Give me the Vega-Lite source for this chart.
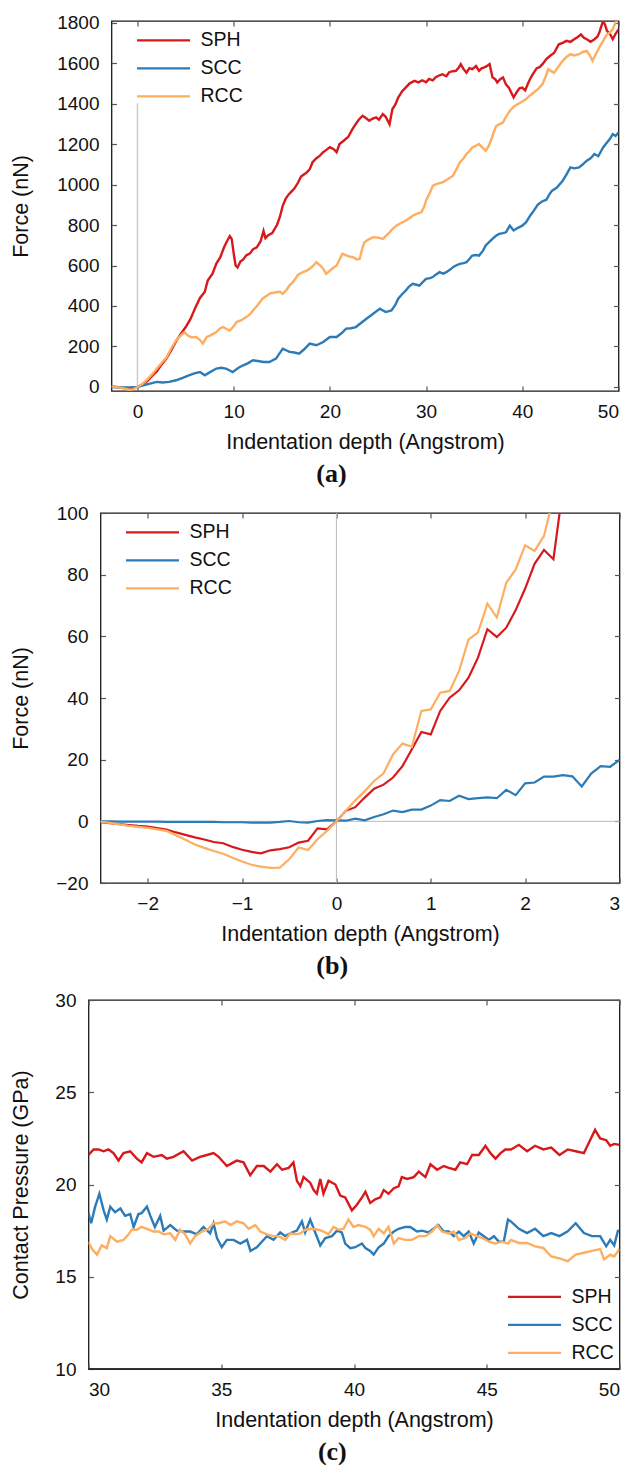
{
  "$schema": "https://vega.github.io/schema/vega-lite/v6.json",
  "padding": {"left": 8.5, "top": 12, "right": 0, "bottom": 0},
  "background": "white",
  "config": {
    "font": "Liberation Sans",
    "view": {"stroke": "#1a1a1a", "strokeWidth": 1.3},
    "axis": {"domain": false, "grid": false, "ticks": true, "tickSize": -5, "tickColor": "#555555", "tickWidth": 1.2, "labelFont": "Liberation Sans", "labelFontSize": 19, "labelColor": "#111111", "titleFont": "Liberation Sans", "titleFontSize": 21.5, "titleFontWeight": "normal", "titleColor": "#111111", "format": "d"},
    "legend": {"orient": "none", "symbolType": "stroke", "symbolSize": 2809, "symbolStrokeWidth": 2.2, "labelFont": "Liberation Sans", "labelFontSize": 19.5, "labelColor": "#111111", "labelOffset": 9, "clipHeight": 25.8, "rowPadding": 2, "padding": 0, "offset": 0},
    "title": {"font": "Liberation Serif", "fontSize": 26, "fontWeight": "bold", "color": "#111111", "orient": "bottom", "frame": "group", "anchor": "middle"}
  },
  "datasets": {
    "none": [],
    "a": [
      {"s":"SPH","x":-2.7,"y":2},{"s":"SPH","x":-2.2,"y":0},{"s":"SPH","x":-1.7,"y":-4},{"s":"SPH","x":-1.2,"y":-7},{"s":"SPH","x":-0.8,"y":-10},{"s":"SPH","x":-0.5,"y":-8},{"s":"SPH","x":-0.2,"y":-2},{"s":"SPH","x":0,"y":0},{"s":"SPH","x":0.5,"y":12},{"s":"SPH","x":1,"y":28},{"s":"SPH","x":1.5,"y":53},{"s":"SPH","x":2,"y":76},{"s":"SPH","x":2.5,"y":110},{"s":"SPH","x":3,"y":140},{"s":"SPH","x":3.5,"y":180},{"s":"SPH","x":4,"y":225},{"s":"SPH","x":4.5,"y":262},{"s":"SPH","x":5,"y":295},{"s":"SPH","x":5.5,"y":335},{"s":"SPH","x":6,"y":390},{"s":"SPH","x":6.5,"y":440},{"s":"SPH","x":7,"y":470},{"s":"SPH","x":7.3,"y":526},{"s":"SPH","x":7.8,"y":560},{"s":"SPH","x":8.2,"y":610},{"s":"SPH","x":8.6,"y":640},{"s":"SPH","x":9,"y":690},{"s":"SPH","x":9.3,"y":720},{"s":"SPH","x":9.6,"y":745},{"s":"SPH","x":9.8,"y":730},{"s":"SPH","x":10,"y":660},{"s":"SPH","x":10.2,"y":600},{"s":"SPH","x":10.4,"y":590},{"s":"SPH","x":10.7,"y":620},{"s":"SPH","x":11,"y":630},{"s":"SPH","x":11.3,"y":650},{"s":"SPH","x":11.7,"y":660},{"s":"SPH","x":12,"y":680},{"s":"SPH","x":12.4,"y":690},{"s":"SPH","x":12.8,"y":720},{"s":"SPH","x":13.1,"y":770},{"s":"SPH","x":13.3,"y":735},{"s":"SPH","x":13.6,"y":750},{"s":"SPH","x":14,"y":760},{"s":"SPH","x":14.5,"y":800},{"s":"SPH","x":14.8,"y":840},{"s":"SPH","x":15.1,"y":895},{"s":"SPH","x":15.4,"y":930},{"s":"SPH","x":15.7,"y":950},{"s":"SPH","x":16,"y":965},{"s":"SPH","x":16.3,"y":980},{"s":"SPH","x":16.7,"y":1010},{"s":"SPH","x":17,"y":1040},{"s":"SPH","x":17.3,"y":1050},{"s":"SPH","x":17.6,"y":1060},{"s":"SPH","x":17.9,"y":1075},{"s":"SPH","x":18.2,"y":1110},{"s":"SPH","x":18.6,"y":1130},{"s":"SPH","x":18.9,"y":1140},{"s":"SPH","x":19.3,"y":1160},{"s":"SPH","x":19.6,"y":1170},{"s":"SPH","x":20,"y":1185},{"s":"SPH","x":20.4,"y":1175},{"s":"SPH","x":20.7,"y":1160},{"s":"SPH","x":21,"y":1200},{"s":"SPH","x":21.4,"y":1215},{"s":"SPH","x":21.9,"y":1235},{"s":"SPH","x":22.3,"y":1270},{"s":"SPH","x":22.7,"y":1300},{"s":"SPH","x":23,"y":1320},{"s":"SPH","x":23.4,"y":1340},{"s":"SPH","x":23.7,"y":1330},{"s":"SPH","x":24.1,"y":1315},{"s":"SPH","x":24.4,"y":1325},{"s":"SPH","x":24.8,"y":1332},{"s":"SPH","x":25.1,"y":1320},{"s":"SPH","x":25.5,"y":1348},{"s":"SPH","x":25.8,"y":1335},{"s":"SPH","x":26.2,"y":1298},{"s":"SPH","x":26.5,"y":1373},{"s":"SPH","x":26.8,"y":1395},{"s":"SPH","x":27.1,"y":1430},{"s":"SPH","x":27.5,"y":1460},{"s":"SPH","x":27.9,"y":1480},{"s":"SPH","x":28.3,"y":1500},{"s":"SPH","x":28.8,"y":1512},{"s":"SPH","x":29.2,"y":1505},{"s":"SPH","x":29.6,"y":1515},{"s":"SPH","x":30,"y":1505},{"s":"SPH","x":30.3,"y":1522},{"s":"SPH","x":30.7,"y":1515},{"s":"SPH","x":31,"y":1530},{"s":"SPH","x":31.4,"y":1540},{"s":"SPH","x":31.7,"y":1545},{"s":"SPH","x":32.1,"y":1535},{"s":"SPH","x":32.4,"y":1555},{"s":"SPH","x":32.8,"y":1560},{"s":"SPH","x":33.1,"y":1562},{"s":"SPH","x":33.4,"y":1578},{"s":"SPH","x":33.6,"y":1595},{"s":"SPH","x":33.9,"y":1570},{"s":"SPH","x":34.2,"y":1553},{"s":"SPH","x":34.5,"y":1575},{"s":"SPH","x":34.8,"y":1570},{"s":"SPH","x":35.2,"y":1585},{"s":"SPH","x":35.5,"y":1562},{"s":"SPH","x":35.8,"y":1575},{"s":"SPH","x":36,"y":1578},{"s":"SPH","x":36.3,"y":1585},{"s":"SPH","x":36.6,"y":1595},{"s":"SPH","x":36.9,"y":1530},{"s":"SPH","x":37.2,"y":1520},{"s":"SPH","x":37.4,"y":1504},{"s":"SPH","x":37.7,"y":1520},{"s":"SPH","x":38,"y":1529},{"s":"SPH","x":38.3,"y":1495},{"s":"SPH","x":38.6,"y":1479},{"s":"SPH","x":38.9,"y":1450},{"s":"SPH","x":39.1,"y":1430},{"s":"SPH","x":39.4,"y":1455},{"s":"SPH","x":39.7,"y":1475},{"s":"SPH","x":40,"y":1479},{"s":"SPH","x":40.3,"y":1465},{"s":"SPH","x":40.6,"y":1500},{"s":"SPH","x":40.9,"y":1530},{"s":"SPH","x":41.2,"y":1553},{"s":"SPH","x":41.5,"y":1575},{"s":"SPH","x":41.8,"y":1580},{"s":"SPH","x":42.1,"y":1595},{"s":"SPH","x":42.5,"y":1620},{"s":"SPH","x":42.9,"y":1636},{"s":"SPH","x":43.3,"y":1650},{"s":"SPH","x":43.8,"y":1693},{"s":"SPH","x":44.2,"y":1700},{"s":"SPH","x":44.6,"y":1710},{"s":"SPH","x":45,"y":1705},{"s":"SPH","x":45.4,"y":1718},{"s":"SPH","x":45.8,"y":1730},{"s":"SPH","x":46.1,"y":1742},{"s":"SPH","x":46.4,"y":1725},{"s":"SPH","x":46.7,"y":1718},{"s":"SPH","x":47.1,"y":1705},{"s":"SPH","x":47.5,"y":1718},{"s":"SPH","x":47.8,"y":1730},{"s":"SPH","x":48,"y":1750},{"s":"SPH","x":48.2,"y":1780},{"s":"SPH","x":48.4,"y":1808},{"s":"SPH","x":48.6,"y":1790},{"s":"SPH","x":48.8,"y":1759},{"s":"SPH","x":49.1,"y":1745},{"s":"SPH","x":49.4,"y":1718},{"s":"SPH","x":49.7,"y":1745},{"s":"SPH","x":50,"y":1767},
      {"s":"SCC","x":-2.7,"y":0},{"s":"SCC","x":-2.2,"y":-1},{"s":"SCC","x":-1.7,"y":-1},{"s":"SCC","x":-1.2,"y":-2},{"s":"SCC","x":-0.8,"y":-2},{"s":"SCC","x":-0.5,"y":-1},{"s":"SCC","x":0,"y":0},{"s":"SCC","x":0.6,"y":8},{"s":"SCC","x":1.2,"y":15},{"s":"SCC","x":2,"y":25},{"s":"SCC","x":2.6,"y":22},{"s":"SCC","x":3.3,"y":25},{"s":"SCC","x":4,"y":33},{"s":"SCC","x":4.7,"y":45},{"s":"SCC","x":5.4,"y":58},{"s":"SCC","x":6,"y":68},{"s":"SCC","x":6.5,"y":74},{"s":"SCC","x":7,"y":58},{"s":"SCC","x":7.5,"y":72},{"s":"SCC","x":8.2,"y":91},{"s":"SCC","x":8.7,"y":95},{"s":"SCC","x":9.2,"y":91},{"s":"SCC","x":9.9,"y":74},{"s":"SCC","x":10.5,"y":95},{"s":"SCC","x":11,"y":107},{"s":"SCC","x":11.5,"y":118},{"s":"SCC","x":12,"y":132},{"s":"SCC","x":12.5,"y":128},{"s":"SCC","x":13.1,"y":123},{"s":"SCC","x":13.7,"y":123},{"s":"SCC","x":14.4,"y":140},{"s":"SCC","x":15.1,"y":189},{"s":"SCC","x":15.5,"y":180},{"s":"SCC","x":15.8,"y":173},{"s":"SCC","x":16.3,"y":170},{"s":"SCC","x":16.8,"y":164},{"s":"SCC","x":17.3,"y":185},{"s":"SCC","x":17.9,"y":214},{"s":"SCC","x":18.6,"y":206},{"s":"SCC","x":19.3,"y":222},{"s":"SCC","x":20,"y":247},{"s":"SCC","x":20.7,"y":247},{"s":"SCC","x":21.2,"y":265},{"s":"SCC","x":21.7,"y":288},{"s":"SCC","x":22.2,"y":290},{"s":"SCC","x":22.7,"y":296},{"s":"SCC","x":23.2,"y":315},{"s":"SCC","x":23.8,"y":337},{"s":"SCC","x":24.5,"y":362},{"s":"SCC","x":25.2,"y":387},{"s":"SCC","x":25.8,"y":370},{"s":"SCC","x":26.4,"y":378},{"s":"SCC","x":26.8,"y":405},{"s":"SCC","x":27.1,"y":436},{"s":"SCC","x":27.5,"y":458},{"s":"SCC","x":27.9,"y":477},{"s":"SCC","x":28.2,"y":495},{"s":"SCC","x":28.6,"y":510},{"s":"SCC","x":29,"y":505},{"s":"SCC","x":29.3,"y":501},{"s":"SCC","x":29.7,"y":520},{"s":"SCC","x":30,"y":534},{"s":"SCC","x":30.4,"y":538},{"s":"SCC","x":30.7,"y":543},{"s":"SCC","x":31,"y":555},{"s":"SCC","x":31.4,"y":567},{"s":"SCC","x":31.8,"y":560},{"s":"SCC","x":32.1,"y":567},{"s":"SCC","x":32.5,"y":580},{"s":"SCC","x":32.8,"y":592},{"s":"SCC","x":33.1,"y":600},{"s":"SCC","x":33.5,"y":608},{"s":"SCC","x":33.9,"y":612},{"s":"SCC","x":34.2,"y":616},{"s":"SCC","x":34.5,"y":632},{"s":"SCC","x":34.8,"y":649},{"s":"SCC","x":35.2,"y":652},{"s":"SCC","x":35.5,"y":649},{"s":"SCC","x":35.9,"y":672},{"s":"SCC","x":36.2,"y":699},{"s":"SCC","x":36.6,"y":718},{"s":"SCC","x":36.9,"y":732},{"s":"SCC","x":37.3,"y":748},{"s":"SCC","x":37.6,"y":756},{"s":"SCC","x":38,"y":760},{"s":"SCC","x":38.3,"y":764},{"s":"SCC","x":38.7,"y":797},{"s":"SCC","x":39.1,"y":773},{"s":"SCC","x":39.5,"y":785},{"s":"SCC","x":40,"y":797},{"s":"SCC","x":40.4,"y":814},{"s":"SCC","x":40.8,"y":845},{"s":"SCC","x":41.2,"y":871},{"s":"SCC","x":41.6,"y":900},{"s":"SCC","x":42,"y":915},{"s":"SCC","x":42.5,"y":925},{"s":"SCC","x":42.8,"y":950},{"s":"SCC","x":43.1,"y":970},{"s":"SCC","x":43.6,"y":985},{"s":"SCC","x":44.2,"y":1019},{"s":"SCC","x":44.6,"y":1050},{"s":"SCC","x":45,"y":1085},{"s":"SCC","x":45.4,"y":1080},{"s":"SCC","x":45.9,"y":1085},{"s":"SCC","x":46.3,"y":1100},{"s":"SCC","x":46.7,"y":1118},{"s":"SCC","x":47.1,"y":1130},{"s":"SCC","x":47.5,"y":1151},{"s":"SCC","x":47.9,"y":1140},{"s":"SCC","x":48.4,"y":1183},{"s":"SCC","x":48.8,"y":1208},{"s":"SCC","x":49.1,"y":1225},{"s":"SCC","x":49.4,"y":1249},{"s":"SCC","x":49.7,"y":1240},{"s":"SCC","x":50,"y":1257},
      {"s":"RCC","x":-2.7,"y":3},{"s":"RCC","x":-2.2,"y":-1},{"s":"RCC","x":-1.7,"y":-4},{"s":"RCC","x":-1.2,"y":-10},{"s":"RCC","x":-0.8,"y":-14},{"s":"RCC","x":-0.5,"y":-12},{"s":"RCC","x":-0.2,"y":-5},{"s":"RCC","x":0,"y":0},{"s":"RCC","x":0.5,"y":15},{"s":"RCC","x":1,"y":36},{"s":"RCC","x":1.5,"y":62},{"s":"RCC","x":2,"y":90},{"s":"RCC","x":2.5,"y":118},{"s":"RCC","x":3,"y":145},{"s":"RCC","x":3.5,"y":190},{"s":"RCC","x":4,"y":230},{"s":"RCC","x":4.5,"y":255},{"s":"RCC","x":4.9,"y":271},{"s":"RCC","x":5.2,"y":255},{"s":"RCC","x":5.6,"y":245},{"s":"RCC","x":6.1,"y":247},{"s":"RCC","x":6.5,"y":232},{"s":"RCC","x":6.8,"y":214},{"s":"RCC","x":7.2,"y":247},{"s":"RCC","x":7.6,"y":255},{"s":"RCC","x":8.2,"y":271},{"s":"RCC","x":8.6,"y":290},{"s":"RCC","x":8.9,"y":296},{"s":"RCC","x":9.3,"y":285},{"s":"RCC","x":9.6,"y":279},{"s":"RCC","x":10,"y":300},{"s":"RCC","x":10.3,"y":321},{"s":"RCC","x":10.8,"y":330},{"s":"RCC","x":11.3,"y":345},{"s":"RCC","x":11.7,"y":360},{"s":"RCC","x":12,"y":378},{"s":"RCC","x":12.5,"y":405},{"s":"RCC","x":13,"y":436},{"s":"RCC","x":13.4,"y":450},{"s":"RCC","x":13.8,"y":462},{"s":"RCC","x":14.4,"y":468},{"s":"RCC","x":14.8,"y":470},{"s":"RCC","x":15.1,"y":460},{"s":"RCC","x":15.5,"y":480},{"s":"RCC","x":15.8,"y":501},{"s":"RCC","x":16.2,"y":520},{"s":"RCC","x":16.7,"y":555},{"s":"RCC","x":17.2,"y":567},{"s":"RCC","x":17.6,"y":575},{"s":"RCC","x":17.9,"y":584},{"s":"RCC","x":18.3,"y":600},{"s":"RCC","x":18.6,"y":616},{"s":"RCC","x":19,"y":600},{"s":"RCC","x":19.3,"y":584},{"s":"RCC","x":19.6,"y":559},{"s":"RCC","x":20,"y":575},{"s":"RCC","x":20.4,"y":590},{"s":"RCC","x":20.7,"y":600},{"s":"RCC","x":21,"y":630},{"s":"RCC","x":21.3,"y":658},{"s":"RCC","x":21.7,"y":650},{"s":"RCC","x":22,"y":645},{"s":"RCC","x":22.4,"y":641},{"s":"RCC","x":22.8,"y":630},{"s":"RCC","x":23.1,"y":633},{"s":"RCC","x":23.4,"y":690},{"s":"RCC","x":23.6,"y":715},{"s":"RCC","x":24,"y":728},{"s":"RCC","x":24.5,"y":740},{"s":"RCC","x":25,"y":738},{"s":"RCC","x":25.5,"y":731},{"s":"RCC","x":25.8,"y":745},{"s":"RCC","x":26.2,"y":764},{"s":"RCC","x":26.5,"y":780},{"s":"RCC","x":26.9,"y":797},{"s":"RCC","x":27.4,"y":810},{"s":"RCC","x":27.9,"y":822},{"s":"RCC","x":28.3,"y":835},{"s":"RCC","x":28.6,"y":846},{"s":"RCC","x":29,"y":855},{"s":"RCC","x":29.5,"y":863},{"s":"RCC","x":29.8,"y":890},{"s":"RCC","x":30,"y":921},{"s":"RCC","x":30.4,"y":960},{"s":"RCC","x":30.7,"y":995},{"s":"RCC","x":31.2,"y":1005},{"s":"RCC","x":31.7,"y":1011},{"s":"RCC","x":32.2,"y":1025},{"s":"RCC","x":32.8,"y":1044},{"s":"RCC","x":33.2,"y":1080},{"s":"RCC","x":33.5,"y":1109},{"s":"RCC","x":33.9,"y":1130},{"s":"RCC","x":34.2,"y":1151},{"s":"RCC","x":34.5,"y":1165},{"s":"RCC","x":34.8,"y":1183},{"s":"RCC","x":35.2,"y":1192},{"s":"RCC","x":35.5,"y":1200},{"s":"RCC","x":35.8,"y":1185},{"s":"RCC","x":36.2,"y":1167},{"s":"RCC","x":36.5,"y":1190},{"s":"RCC","x":36.8,"y":1225},{"s":"RCC","x":37,"y":1255},{"s":"RCC","x":37.3,"y":1290},{"s":"RCC","x":37.7,"y":1300},{"s":"RCC","x":38,"y":1307},{"s":"RCC","x":38.3,"y":1335},{"s":"RCC","x":38.7,"y":1364},{"s":"RCC","x":39.1,"y":1385},{"s":"RCC","x":39.5,"y":1397},{"s":"RCC","x":40,"y":1410},{"s":"RCC","x":40.4,"y":1422},{"s":"RCC","x":40.8,"y":1440},{"s":"RCC","x":41.2,"y":1455},{"s":"RCC","x":41.7,"y":1475},{"s":"RCC","x":42.1,"y":1496},{"s":"RCC","x":42.4,"y":1530},{"s":"RCC","x":42.7,"y":1570},{"s":"RCC","x":43,"y":1560},{"s":"RCC","x":43.3,"y":1553},{"s":"RCC","x":43.8,"y":1585},{"s":"RCC","x":44.2,"y":1611},{"s":"RCC","x":44.6,"y":1630},{"s":"RCC","x":45,"y":1644},{"s":"RCC","x":45.4,"y":1638},{"s":"RCC","x":45.9,"y":1644},{"s":"RCC","x":46.3,"y":1655},{"s":"RCC","x":46.7,"y":1660},{"s":"RCC","x":47,"y":1640},{"s":"RCC","x":47.3,"y":1611},{"s":"RCC","x":47.6,"y":1640},{"s":"RCC","x":48,"y":1677},{"s":"RCC","x":48.4,"y":1710},{"s":"RCC","x":48.8,"y":1742},{"s":"RCC","x":49.1,"y":1750},{"s":"RCC","x":49.4,"y":1767},{"s":"RCC","x":49.6,"y":1790},{"s":"RCC","x":49.8,"y":1808},{"s":"RCC","x":50,"y":1830}
    ],
    "b": [
      {"s":"SPH","x":-2.5,"y":-0.3},{"s":"SPH","x":-2.4,"y":-0.6},{"s":"SPH","x":-2.3,"y":-0.9},{"s":"SPH","x":-2.2,"y":-1.2},{"s":"SPH","x":-2.1,"y":-1.5},{"s":"SPH","x":-2.0,"y":-1.7},{"s":"SPH","x":-1.9,"y":-2.2},{"s":"SPH","x":-1.8,"y":-2.7},{"s":"SPH","x":-1.7,"y":-3.6},{"s":"SPH","x":-1.6,"y":-4.4},{"s":"SPH","x":-1.5,"y":-5.2},{"s":"SPH","x":-1.4,"y":-5.9},{"s":"SPH","x":-1.3,"y":-6.7},{"s":"SPH","x":-1.2,"y":-7.1},{"s":"SPH","x":-1.1,"y":-8.3},{"s":"SPH","x":-1.0,"y":-9.2},{"s":"SPH","x":-0.9,"y":-9.9},{"s":"SPH","x":-0.8,"y":-10.4},{"s":"SPH","x":-0.7,"y":-9.4},{"s":"SPH","x":-0.6,"y":-9.0},{"s":"SPH","x":-0.5,"y":-8.4},{"s":"SPH","x":-0.4,"y":-6.9},{"s":"SPH","x":-0.3,"y":-6.3},{"s":"SPH","x":-0.2,"y":-2.3},{"s":"SPH","x":-0.1,"y":-2.6},{"s":"SPH","x":0,"y":0},{"s":"SPH","x":0.1,"y":3.4},{"s":"SPH","x":0.2,"y":4.6},{"s":"SPH","x":0.3,"y":7.7},{"s":"SPH","x":0.4,"y":10.6},{"s":"SPH","x":0.5,"y":11.9},{"s":"SPH","x":0.6,"y":14.2},{"s":"SPH","x":0.7,"y":17.9},{"s":"SPH","x":0.8,"y":23.4},{"s":"SPH","x":0.9,"y":29.0},{"s":"SPH","x":1.0,"y":28.2},{"s":"SPH","x":1.1,"y":35.8},{"s":"SPH","x":1.2,"y":40.1},{"s":"SPH","x":1.3,"y":42.5},{"s":"SPH","x":1.4,"y":46.6},{"s":"SPH","x":1.5,"y":53.1},{"s":"SPH","x":1.6,"y":62.3},{"s":"SPH","x":1.7,"y":59.8},{"s":"SPH","x":1.8,"y":62.8},{"s":"SPH","x":1.9,"y":68.5},{"s":"SPH","x":2.0,"y":75.5},{"s":"SPH","x":2.1,"y":83.5},{"s":"SPH","x":2.2,"y":88.0},{"s":"SPH","x":2.3,"y":85.0},{"s":"SPH","x":2.4,"y":108},
      {"s":"SCC","x":-2.5,"y":0},{"s":"SCC","x":-2.4,"y":0},{"s":"SCC","x":-2.3,"y":-0.1},{"s":"SCC","x":-2.2,"y":-0.1},{"s":"SCC","x":-2.1,"y":-0.1},{"s":"SCC","x":-2.0,"y":-0.1},{"s":"SCC","x":-1.9,"y":-0.1},{"s":"SCC","x":-1.8,"y":-0.2},{"s":"SCC","x":-1.7,"y":-0.2},{"s":"SCC","x":-1.6,"y":-0.2},{"s":"SCC","x":-1.5,"y":-0.2},{"s":"SCC","x":-1.4,"y":-0.2},{"s":"SCC","x":-1.3,"y":-0.2},{"s":"SCC","x":-1.2,"y":-0.3},{"s":"SCC","x":-1.1,"y":-0.3},{"s":"SCC","x":-1.0,"y":-0.3},{"s":"SCC","x":-0.9,"y":-0.4},{"s":"SCC","x":-0.8,"y":-0.4},{"s":"SCC","x":-0.7,"y":-0.4},{"s":"SCC","x":-0.6,"y":-0.2},{"s":"SCC","x":-0.5,"y":0.1},{"s":"SCC","x":-0.4,"y":-0.3},{"s":"SCC","x":-0.3,"y":-0.4},{"s":"SCC","x":-0.2,"y":0.1},{"s":"SCC","x":-0.1,"y":0.4},{"s":"SCC","x":0,"y":0.3},{"s":"SCC","x":0.1,"y":0.2},{"s":"SCC","x":0.2,"y":0.9},{"s":"SCC","x":0.3,"y":0.3},{"s":"SCC","x":0.4,"y":1.4},{"s":"SCC","x":0.5,"y":2.3},{"s":"SCC","x":0.6,"y":3.5},{"s":"SCC","x":0.7,"y":3.0},{"s":"SCC","x":0.8,"y":3.8},{"s":"SCC","x":0.9,"y":3.8},{"s":"SCC","x":1.0,"y":5.1},{"s":"SCC","x":1.1,"y":6.9},{"s":"SCC","x":1.2,"y":6.6},{"s":"SCC","x":1.3,"y":8.3},{"s":"SCC","x":1.4,"y":7.2},{"s":"SCC","x":1.5,"y":7.5},{"s":"SCC","x":1.6,"y":7.8},{"s":"SCC","x":1.7,"y":7.5},{"s":"SCC","x":1.8,"y":10.2},{"s":"SCC","x":1.9,"y":8.5},{"s":"SCC","x":2.0,"y":12.3},{"s":"SCC","x":2.1,"y":12.6},{"s":"SCC","x":2.2,"y":14.5},{"s":"SCC","x":2.3,"y":14.5},{"s":"SCC","x":2.4,"y":15.0},{"s":"SCC","x":2.5,"y":14.6},{"s":"SCC","x":2.6,"y":11.3},{"s":"SCC","x":2.7,"y":15.5},{"s":"SCC","x":2.8,"y":17.9},{"s":"SCC","x":2.9,"y":17.7},{"s":"SCC","x":3.0,"y":19.9},
      {"s":"RCC","x":-2.5,"y":-0.1},{"s":"RCC","x":-2.4,"y":-0.5},{"s":"RCC","x":-2.3,"y":-1.0},{"s":"RCC","x":-2.2,"y":-1.5},{"s":"RCC","x":-2.1,"y":-1.8},{"s":"RCC","x":-2.0,"y":-2.1},{"s":"RCC","x":-1.9,"y":-2.6},{"s":"RCC","x":-1.8,"y":-3.1},{"s":"RCC","x":-1.7,"y":-4.5},{"s":"RCC","x":-1.6,"y":-6.0},{"s":"RCC","x":-1.5,"y":-7.5},{"s":"RCC","x":-1.4,"y":-8.6},{"s":"RCC","x":-1.3,"y":-9.6},{"s":"RCC","x":-1.2,"y":-10.5},{"s":"RCC","x":-1.1,"y":-11.8},{"s":"RCC","x":-1.0,"y":-13.0},{"s":"RCC","x":-0.9,"y":-14.1},{"s":"RCC","x":-0.8,"y":-14.7},{"s":"RCC","x":-0.7,"y":-15.1},{"s":"RCC","x":-0.6,"y":-15.0},{"s":"RCC","x":-0.5,"y":-12.3},{"s":"RCC","x":-0.4,"y":-8.5},{"s":"RCC","x":-0.3,"y":-9.3},{"s":"RCC","x":-0.2,"y":-5.8},{"s":"RCC","x":-0.1,"y":-3.1},{"s":"RCC","x":0,"y":0},{"s":"RCC","x":0.1,"y":3.4},{"s":"RCC","x":0.2,"y":6.8},{"s":"RCC","x":0.3,"y":9.8},{"s":"RCC","x":0.4,"y":13.1},{"s":"RCC","x":0.5,"y":15.6},{"s":"RCC","x":0.6,"y":21.7},{"s":"RCC","x":0.7,"y":25.2},{"s":"RCC","x":0.8,"y":24.2},{"s":"RCC","x":0.9,"y":35.8},{"s":"RCC","x":1.0,"y":36.3},{"s":"RCC","x":1.1,"y":41.7},{"s":"RCC","x":1.2,"y":42.3},{"s":"RCC","x":1.3,"y":48.8},{"s":"RCC","x":1.4,"y":59.0},{"s":"RCC","x":1.5,"y":61.2},{"s":"RCC","x":1.6,"y":70.6},{"s":"RCC","x":1.7,"y":66.1},{"s":"RCC","x":1.8,"y":77.4},{"s":"RCC","x":1.9,"y":81.7},{"s":"RCC","x":2.0,"y":89.5},{"s":"RCC","x":2.1,"y":87.7},{"s":"RCC","x":2.2,"y":92.6},{"s":"RCC","x":2.3,"y":105}
    ],
    "c": [
      {"s":"SPH","x":30.0,"y":21.6},{"s":"SPH","x":30.19,"y":21.9},{"s":"SPH","x":30.38,"y":21.9},{"s":"SPH","x":30.57,"y":21.8},{"s":"SPH","x":30.75,"y":21.9},{"s":"SPH","x":30.94,"y":21.7},{"s":"SPH","x":31.13,"y":21.3},{"s":"SPH","x":31.32,"y":21.7},{"s":"SPH","x":31.57,"y":21.8},{"s":"SPH","x":31.82,"y":21.4},{"s":"SPH","x":32.0,"y":21.2},{"s":"SPH","x":32.2,"y":21.7},{"s":"SPH","x":32.45,"y":21.5},{"s":"SPH","x":32.76,"y":21.6},{"s":"SPH","x":32.95,"y":21.4},{"s":"SPH","x":33.2,"y":21.5},{"s":"SPH","x":33.58,"y":21.8},{"s":"SPH","x":33.9,"y":21.3},{"s":"SPH","x":34.2,"y":21.5},{"s":"SPH","x":34.46,"y":21.6},{"s":"SPH","x":34.71,"y":21.7},{"s":"SPH","x":34.9,"y":21.5},{"s":"SPH","x":35.21,"y":21.0},{"s":"SPH","x":35.46,"y":21.2},{"s":"SPH","x":35.59,"y":21.3},{"s":"SPH","x":35.84,"y":21.2},{"s":"SPH","x":36.09,"y":20.5},{"s":"SPH","x":36.34,"y":21.0},{"s":"SPH","x":36.6,"y":21.0},{"s":"SPH","x":36.85,"y":20.7},{"s":"SPH","x":37.1,"y":21.1},{"s":"SPH","x":37.29,"y":20.8},{"s":"SPH","x":37.54,"y":20.9},{"s":"SPH","x":37.72,"y":21.2},{"s":"SPH","x":37.85,"y":20.2},{"s":"SPH","x":37.98,"y":19.9},{"s":"SPH","x":38.1,"y":20.4},{"s":"SPH","x":38.35,"y":20.1},{"s":"SPH","x":38.48,"y":19.7},{"s":"SPH","x":38.6,"y":19.5},{"s":"SPH","x":38.73,"y":20.3},{"s":"SPH","x":38.85,"y":19.5},{"s":"SPH","x":39.04,"y":20.2},{"s":"SPH","x":39.3,"y":20.0},{"s":"SPH","x":39.48,"y":19.4},{"s":"SPH","x":39.67,"y":19.3},{"s":"SPH","x":39.92,"y":18.6},{"s":"SPH","x":40.11,"y":18.9},{"s":"SPH","x":40.3,"y":19.3},{"s":"SPH","x":40.43,"y":19.6},{"s":"SPH","x":40.61,"y":19.0},{"s":"SPH","x":40.8,"y":19.2},{"s":"SPH","x":40.99,"y":19.3},{"s":"SPH","x":41.12,"y":19.7},{"s":"SPH","x":41.3,"y":19.5},{"s":"SPH","x":41.5,"y":19.8},{"s":"SPH","x":41.68,"y":19.9},{"s":"SPH","x":41.8,"y":20.4},{"s":"SPH","x":42.0,"y":20.3},{"s":"SPH","x":42.25,"y":20.4},{"s":"SPH","x":42.44,"y":20.7},{"s":"SPH","x":42.69,"y":20.4},{"s":"SPH","x":42.88,"y":21.1},{"s":"SPH","x":43.13,"y":20.8},{"s":"SPH","x":43.38,"y":21.0},{"s":"SPH","x":43.57,"y":20.9},{"s":"SPH","x":43.82,"y":20.8},{"s":"SPH","x":44.0,"y":21.2},{"s":"SPH","x":44.26,"y":21.1},{"s":"SPH","x":44.45,"y":21.6},{"s":"SPH","x":44.7,"y":21.6},{"s":"SPH","x":44.95,"y":22.1},{"s":"SPH","x":45.14,"y":21.7},{"s":"SPH","x":45.33,"y":21.4},{"s":"SPH","x":45.52,"y":21.7},{"s":"SPH","x":45.7,"y":21.9},{"s":"SPH","x":45.91,"y":21.9},{"s":"SPH","x":46.21,"y":22.15},{"s":"SPH","x":46.52,"y":21.8},{"s":"SPH","x":46.82,"y":22.1},{"s":"SPH","x":47.13,"y":21.9},{"s":"SPH","x":47.43,"y":22.0},{"s":"SPH","x":47.74,"y":21.6},{"s":"SPH","x":48.05,"y":21.9},{"s":"SPH","x":48.35,"y":21.8},{"s":"SPH","x":48.66,"y":21.7},{"s":"SPH","x":48.81,"y":22.15},{"s":"SPH","x":49.08,"y":22.96},{"s":"SPH","x":49.27,"y":22.5},{"s":"SPH","x":49.5,"y":22.4},{"s":"SPH","x":49.65,"y":22.1},{"s":"SPH","x":49.8,"y":22.2},{"s":"SPH","x":50,"y":22.15},
      {"s":"SCC","x":30.0,"y":18.45},{"s":"SCC","x":30.1,"y":17.9},{"s":"SCC","x":30.25,"y":18.8},{"s":"SCC","x":30.41,"y":19.5},{"s":"SCC","x":30.57,"y":18.6},{"s":"SCC","x":30.69,"y":18.1},{"s":"SCC","x":30.82,"y":18.8},{"s":"SCC","x":31.0,"y":18.5},{"s":"SCC","x":31.2,"y":18.7},{"s":"SCC","x":31.38,"y":18.3},{"s":"SCC","x":31.57,"y":18.4},{"s":"SCC","x":31.7,"y":17.7},{"s":"SCC","x":31.88,"y":18.4},{"s":"SCC","x":32.0,"y":18.45},{"s":"SCC","x":32.2,"y":18.8},{"s":"SCC","x":32.33,"y":18.3},{"s":"SCC","x":32.5,"y":17.7},{"s":"SCC","x":32.7,"y":18.3},{"s":"SCC","x":32.83,"y":17.5},{"s":"SCC","x":33.08,"y":17.8},{"s":"SCC","x":33.33,"y":17.5},{"s":"SCC","x":33.58,"y":17.45},{"s":"SCC","x":33.83,"y":17.45},{"s":"SCC","x":34.08,"y":17.3},{"s":"SCC","x":34.33,"y":17.7},{"s":"SCC","x":34.58,"y":17.35},{"s":"SCC","x":34.71,"y":17.9},{"s":"SCC","x":34.84,"y":17.1},{"s":"SCC","x":35.02,"y":16.6},{"s":"SCC","x":35.21,"y":17.0},{"s":"SCC","x":35.46,"y":17.0},{"s":"SCC","x":35.72,"y":16.8},{"s":"SCC","x":35.97,"y":17.0},{"s":"SCC","x":36.1,"y":16.4},{"s":"SCC","x":36.34,"y":16.6},{"s":"SCC","x":36.53,"y":16.9},{"s":"SCC","x":36.72,"y":17.2},{"s":"SCC","x":36.97,"y":17.0},{"s":"SCC","x":37.22,"y":17.4},{"s":"SCC","x":37.41,"y":17.2},{"s":"SCC","x":37.66,"y":17.4},{"s":"SCC","x":37.85,"y":17.5},{"s":"SCC","x":38.04,"y":18.0},{"s":"SCC","x":38.16,"y":17.4},{"s":"SCC","x":38.35,"y":18.1},{"s":"SCC","x":38.54,"y":17.4},{"s":"SCC","x":38.73,"y":16.7},{"s":"SCC","x":38.92,"y":17.1},{"s":"SCC","x":39.17,"y":17.2},{"s":"SCC","x":39.36,"y":17.5},{"s":"SCC","x":39.54,"y":17.4},{"s":"SCC","x":39.67,"y":16.8},{"s":"SCC","x":39.86,"y":16.55},{"s":"SCC","x":40.05,"y":16.6},{"s":"SCC","x":40.3,"y":16.8},{"s":"SCC","x":40.43,"y":16.55},{"s":"SCC","x":40.61,"y":16.4},{"s":"SCC","x":40.74,"y":16.2},{"s":"SCC","x":40.93,"y":16.6},{"s":"SCC","x":41.12,"y":16.8},{"s":"SCC","x":41.3,"y":17.2},{"s":"SCC","x":41.5,"y":17.45},{"s":"SCC","x":41.68,"y":17.6},{"s":"SCC","x":41.93,"y":17.7},{"s":"SCC","x":42.12,"y":17.7},{"s":"SCC","x":42.37,"y":17.45},{"s":"SCC","x":42.56,"y":17.5},{"s":"SCC","x":42.81,"y":17.4},{"s":"SCC","x":42.99,"y":17.6},{"s":"SCC","x":43.18,"y":17.8},{"s":"SCC","x":43.38,"y":17.45},{"s":"SCC","x":43.57,"y":17.45},{"s":"SCC","x":43.76,"y":17.2},{"s":"SCC","x":43.95,"y":17.45},{"s":"SCC","x":44.13,"y":17.2},{"s":"SCC","x":44.32,"y":17.45},{"s":"SCC","x":44.51,"y":16.8},{"s":"SCC","x":44.7,"y":17.4},{"s":"SCC","x":44.89,"y":17.2},{"s":"SCC","x":45.08,"y":17.0},{"s":"SCC","x":45.27,"y":17.2},{"s":"SCC","x":45.46,"y":16.9},{"s":"SCC","x":45.64,"y":16.9},{"s":"SCC","x":45.8,"y":18.1},{"s":"SCC","x":45.91,"y":18.0},{"s":"SCC","x":46.21,"y":17.6},{"s":"SCC","x":46.52,"y":17.37},{"s":"SCC","x":46.82,"y":17.6},{"s":"SCC","x":47.13,"y":17.2},{"s":"SCC","x":47.43,"y":17.37},{"s":"SCC","x":47.74,"y":17.2},{"s":"SCC","x":48.05,"y":17.46},{"s":"SCC","x":48.35,"y":17.9},{"s":"SCC","x":48.66,"y":17.37},{"s":"SCC","x":48.96,"y":17.2},{"s":"SCC","x":49.27,"y":17.2},{"s":"SCC","x":49.5,"y":16.65},{"s":"SCC","x":49.65,"y":17.0},{"s":"SCC","x":49.8,"y":16.7},{"s":"SCC","x":49.95,"y":17.55},
      {"s":"RCC","x":30.0,"y":16.9},{"s":"RCC","x":30.13,"y":16.5},{"s":"RCC","x":30.32,"y":16.2},{"s":"RCC","x":30.5,"y":16.7},{"s":"RCC","x":30.69,"y":16.55},{"s":"RCC","x":30.82,"y":17.2},{"s":"RCC","x":31.07,"y":16.9},{"s":"RCC","x":31.32,"y":17.0},{"s":"RCC","x":31.51,"y":17.3},{"s":"RCC","x":31.63,"y":17.55},{"s":"RCC","x":31.82,"y":17.55},{"s":"RCC","x":32.0,"y":17.7},{"s":"RCC","x":32.2,"y":17.6},{"s":"RCC","x":32.45,"y":17.45},{"s":"RCC","x":32.64,"y":17.45},{"s":"RCC","x":32.83,"y":17.3},{"s":"RCC","x":33.08,"y":17.35},{"s":"RCC","x":33.27,"y":17.0},{"s":"RCC","x":33.45,"y":17.55},{"s":"RCC","x":33.64,"y":17.3},{"s":"RCC","x":33.83,"y":16.8},{"s":"RCC","x":34.02,"y":17.2},{"s":"RCC","x":34.27,"y":17.45},{"s":"RCC","x":34.52,"y":17.6},{"s":"RCC","x":34.71,"y":17.9},{"s":"RCC","x":34.9,"y":17.9},{"s":"RCC","x":35.15,"y":18.0},{"s":"RCC","x":35.34,"y":17.8},{"s":"RCC","x":35.59,"y":18.0},{"s":"RCC","x":35.84,"y":17.9},{"s":"RCC","x":36.03,"y":17.6},{"s":"RCC","x":36.28,"y":17.8},{"s":"RCC","x":36.47,"y":17.45},{"s":"RCC","x":36.72,"y":17.3},{"s":"RCC","x":36.97,"y":17.2},{"s":"RCC","x":37.16,"y":17.2},{"s":"RCC","x":37.41,"y":17.0},{"s":"RCC","x":37.6,"y":17.35},{"s":"RCC","x":37.79,"y":17.3},{"s":"RCC","x":37.98,"y":17.35},{"s":"RCC","x":38.16,"y":17.55},{"s":"RCC","x":38.41,"y":17.6},{"s":"RCC","x":38.67,"y":17.55},{"s":"RCC","x":38.85,"y":17.45},{"s":"RCC","x":39.04,"y":17.3},{"s":"RCC","x":39.23,"y":17.7},{"s":"RCC","x":39.42,"y":17.55},{"s":"RCC","x":39.61,"y":17.6},{"s":"RCC","x":39.79,"y":18.1},{"s":"RCC","x":39.98,"y":17.7},{"s":"RCC","x":40.17,"y":17.8},{"s":"RCC","x":40.43,"y":17.7},{"s":"RCC","x":40.61,"y":17.55},{"s":"RCC","x":40.74,"y":17.2},{"s":"RCC","x":40.93,"y":17.6},{"s":"RCC","x":41.12,"y":17.35},{"s":"RCC","x":41.3,"y":17.7},{"s":"RCC","x":41.5,"y":16.8},{"s":"RCC","x":41.68,"y":17.1},{"s":"RCC","x":41.93,"y":17.0},{"s":"RCC","x":42.18,"y":17.0},{"s":"RCC","x":42.44,"y":17.2},{"s":"RCC","x":42.69,"y":17.2},{"s":"RCC","x":42.94,"y":17.45},{"s":"RCC","x":43.13,"y":17.8},{"s":"RCC","x":43.31,"y":17.45},{"s":"RCC","x":43.57,"y":17.35},{"s":"RCC","x":43.76,"y":17.45},{"s":"RCC","x":43.95,"y":17.0},{"s":"RCC","x":44.2,"y":17.1},{"s":"RCC","x":44.38,"y":17.35},{"s":"RCC","x":44.64,"y":17.2},{"s":"RCC","x":44.83,"y":17.1},{"s":"RCC","x":45.08,"y":16.9},{"s":"RCC","x":45.33,"y":16.8},{"s":"RCC","x":45.58,"y":16.9},{"s":"RCC","x":45.8,"y":16.8},{"s":"RCC","x":45.91,"y":17.0},{"s":"RCC","x":46.21,"y":16.83},{"s":"RCC","x":46.52,"y":16.83},{"s":"RCC","x":46.82,"y":16.65},{"s":"RCC","x":47.13,"y":16.56},{"s":"RCC","x":47.43,"y":16.1},{"s":"RCC","x":47.74,"y":16.0},{"s":"RCC","x":48.05,"y":15.85},{"s":"RCC","x":48.35,"y":16.2},{"s":"RCC","x":48.66,"y":16.3},{"s":"RCC","x":48.96,"y":16.4},{"s":"RCC","x":49.27,"y":16.5},{"s":"RCC","x":49.42,"y":15.94},{"s":"RCC","x":49.65,"y":16.2},{"s":"RCC","x":49.8,"y":16.1},{"s":"RCC","x":50,"y":16.5}
    ]
  },
  "spacing": 10,
  "resolve": {"legend": {"color": "independent"}},
  "vconcat": [
    {
      "spacing": 0,
      "resolve": {"legend": {"color": "independent"}},
      "hconcat": [
        {"width": 1, "height": 1, "data": {"name": "none"}, "mark": "point", "view": {"stroke": null}},
        {
          "width": 507, "height": 370,
          "title": {"text": "(a)", "dx": -33.5, "offset": 8, "subtitle": " ", "subtitleFontSize": 3, "subtitlePadding": 2},
          "layer": [
            {
              "data": {"values": [{"x": 0, "y": 0, "y2": 1400}]},
              "mark": {"type": "rule", "color": "#cccccc", "strokeWidth": 1.5},
              "encoding": {
                "x": {"field": "x", "type": "quantitative", "scale": {"domain": [-2.7, 50], "nice": false, "zero": false}, "axis": {"orient": "top", "labels": false, "title": null, "values": [0, 10, 20, 30, 40, 50]}},
                "y": {"field": "y", "type": "quantitative", "scale": {"domain": [-20, 1808], "nice": false, "zero": false}, "axis": {"orient": "right", "labels": false, "title": null, "values": [0, 200, 400, 600, 800, 1000, 1200, 1400, 1600, 1800]}},
                "y2": {"field": "y2"}
              }
            },
            {
              "data": {"name": "a"},
              "mark": {"type": "line", "clip": true, "strokeWidth": 2.4},
              "encoding": {
                "x": {"field": "x", "type": "quantitative", "scale": {"domain": [-2.7, 50], "nice": false, "zero": false}, "axis": {"orient": "bottom", "title": "Indentation depth (Angstrom)", "values": [0, 10, 20, 30, 40, 50], "labelPadding": 16.6, "titlePadding": 9.7}},
                "y": {"field": "y", "type": "quantitative", "scale": {"domain": [-20, 1808], "nice": false, "zero": false}, "axis": {"orient": "left", "title": "Force (nN)", "values": [0, 200, 400, 600, 800, 1000, 1200, 1400, 1600, 1800], "labelPadding": 17.5, "minExtent": 55, "maxExtent": 55, "titlePadding": 24}},
                "color": {"field": "s", "type": "nominal", "title": null, "scale": {"domain": ["SPH", "SCC", "RCC"], "range": ["#d7191c", "#2c7bb6", "#fdae61"]}, "legend": {"legendX": 24, "legendY": 6.5}}
              }
            }
          ],
          "resolve": {"axis": {"x": "independent", "y": "independent"}}
        }
      ]
    },
    {
      "spacing": 0,
      "resolve": {"legend": {"color": "independent"}},
      "hconcat": [
        {"width": 1, "height": 1, "data": {"name": "none"}, "mark": "point", "view": {"stroke": null}},
        {
          "width": 519, "height": 370,
          "title": {"text": "(b)", "dx": -27.8, "offset": 8},
          "layer": [
            {
              "data": {"values": [{"x": 0, "y": -20, "y2": 100}]},
              "mark": {"type": "rule", "color": "#bbbbbb", "strokeWidth": 1},
              "encoding": {
                "x": {"field": "x", "type": "quantitative", "scale": {"domain": [-2.5, 3], "nice": false, "zero": false}, "axis": {"orient": "top", "labels": false, "title": null, "values": [-2, -1, 0, 1, 2, 3]}},
                "y": {"field": "y", "type": "quantitative", "scale": {"domain": [-20, 100], "nice": false, "zero": false}, "axis": {"orient": "right", "labels": false, "title": null, "values": [-20, 0, 20, 40, 60, 80, 100]}},
                "y2": {"field": "y2"}
              }
            },
            {
              "data": {"values": [{"x": -2.5, "x2": 3, "y": 0}]},
              "mark": {"type": "rule", "color": "#bbbbbb", "strokeWidth": 1},
              "encoding": {
                "x": {"field": "x", "type": "quantitative", "axis": null},
                "x2": {"field": "x2"},
                "y": {"field": "y", "type": "quantitative", "axis": null}
              }
            },
            {
              "data": {"name": "b"},
              "mark": {"type": "line", "clip": true, "strokeWidth": 2.2},
              "encoding": {
                "x": {"field": "x", "type": "quantitative", "scale": {"domain": [-2.5, 3], "nice": false, "zero": false}, "axis": {"orient": "bottom", "title": "Indentation depth (Angstrom)", "values": [-2, -1, 0, 1, 2, 3], "labelPadding": 16.6, "titlePadding": 9.7}},
                "y": {"field": "y", "type": "quantitative", "scale": {"domain": [-20, 100], "nice": false, "zero": false}, "axis": {"orient": "left", "title": "Force (nN)", "values": [-20, 0, 20, 40, 60, 80, 100], "labelPadding": 17.5, "minExtent": 44, "maxExtent": 44, "titlePadding": 24}},
                "color": {"field": "s", "type": "nominal", "title": null, "scale": {"domain": ["SPH", "SCC", "RCC"], "range": ["#d7191c", "#2c7bb6", "#fdae61"]}, "legend": {"legendX": 24, "legendY": 6.5}}
              }
            }
          ],
          "resolve": {"axis": {"x": "independent", "y": "independent"}}
        }
      ]
    },
    {
      "spacing": 0,
      "resolve": {"legend": {"color": "independent"}},
      "hconcat": [
        {"width": 1, "height": 1, "data": {"name": "none"}, "mark": "point", "view": {"stroke": null}},
        {
          "width": 531, "height": 369,
          "title": {"text": "(c)", "dx": -21.7, "offset": 8},
          "layer": [
            {
              "data": {"values": [{"x": 30, "x2": 50, "y": 10}]},
              "mark": {"type": "rule", "color": "#1a1a1a", "strokeWidth": 1.3},
              "encoding": {
                "x": {"field": "x", "type": "quantitative", "scale": {"domain": [30, 50], "nice": false, "zero": false}, "axis": {"orient": "top", "labels": false, "title": null, "values": [30, 35, 40, 45, 50]}},
                "x2": {"field": "x2"},
                "y": {"field": "y", "type": "quantitative", "scale": {"domain": [10, 30], "nice": false, "zero": false}, "axis": {"orient": "right", "labels": false, "title": null, "values": [10, 15, 20, 25, 30]}}
              }
            },
            {
              "data": {"name": "c"},
              "mark": {"type": "line", "clip": true, "strokeWidth": 2.4},
              "encoding": {
                "x": {"field": "x", "type": "quantitative", "scale": {"domain": [30, 50], "nice": false, "zero": false}, "axis": {"orient": "bottom", "title": "Indentation depth (Angstrom)", "values": [30, 35, 40, 45, 50], "labelPadding": 16.6, "titlePadding": 9.7}},
                "y": {"field": "y", "type": "quantitative", "scale": {"domain": [10, 30], "nice": false, "zero": false}, "axis": {"orient": "left", "title": "Contact Pressure (GPa)", "values": [10, 15, 20, 25, 30], "labelPadding": 17.5, "minExtent": 32, "maxExtent": 32, "titlePadding": 24}},
                "color": {"field": "s", "type": "nominal", "title": null, "scale": {"domain": ["SPH", "SCC", "RCC"], "range": ["#d7191c", "#2c7bb6", "#fdae61"]}, "legend": {"legendX": 418, "legendY": 284}}
              }
            }
          ],
          "resolve": {"axis": {"x": "independent", "y": "independent"}}
        }
      ]
    }
  ]
}
